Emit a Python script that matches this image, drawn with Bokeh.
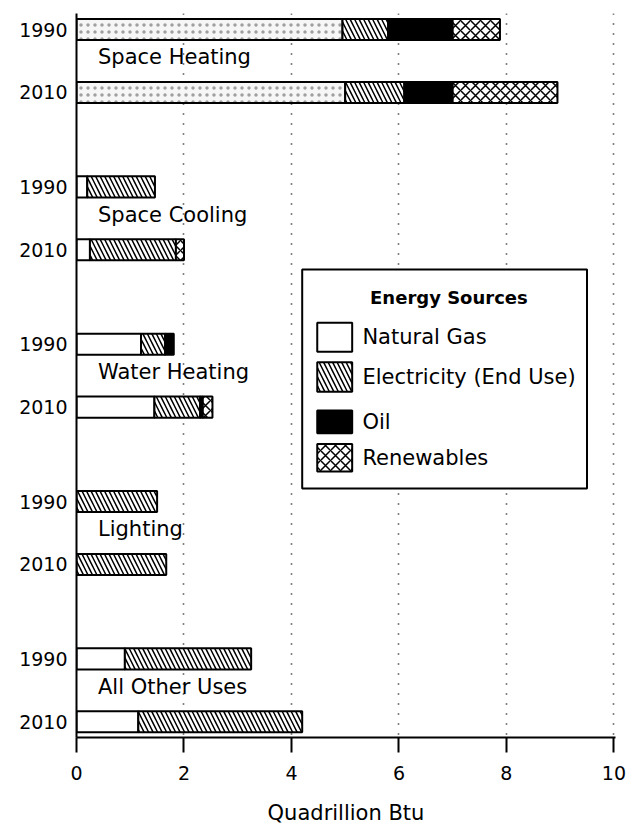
from bokeh.plotting import figure
from bokeh.models import Range1d, FixedTicker, BoxAnnotation, Label, ColumnDataSource
from bokeh.core.properties import value
from bokeh.embed import file_html
from bokeh.resources import INLINE

# ---- data (quadrillion Btu) ----
categories = ["Space Heating", "Space Cooling", "Water Heating", "Lighting", "All Other Uses"]
years = ["1990", "2010"]
natural_gas_1990 = [4.95, 0.20, 1.20, 0.0, 0.90]
natural_gas_2010 = [5.00, 0.25, 1.45, 0.0, 1.15]
electricity_1990 = [0.85, 1.26, 0.45, 1.50, 2.35]
electricity_2010 = [1.10, 1.60, 0.85, 1.67, 3.05]
oil_1990 = [1.20, 0.0, 0.16, 0.0, 0.0]
oil_2010 = [0.90, 0.0, 0.05, 0.0, 0.0]
renewables_1990 = [0.88, 0.0, 0.0, 0.0, 0.0]
renewables_2010 = [1.95, 0.15, 0.18, 0.0, 0.0]
x_ticks = [0, 2, 4, 6, 8, 10]
source_names = ["Natural Gas", "Electricity (End Use)", "Oil", "Renewables"]

series = {
    "1990": [natural_gas_1990, electricity_1990, oil_1990, renewables_1990],
    "2010": [natural_gas_2010, electricity_2010, oil_2010, renewables_2010],
}

FONT = "DejaVu Sans"

# styles per energy source
styles = [
    dict(fill_color="white", hatch_pattern=None),
    dict(fill_color="white", hatch_pattern="left_diagonal_line", hatch_scale=9, hatch_weight=1.5, hatch_color="black"),
    dict(fill_color="black", hatch_pattern=None),
    dict(fill_color="white", hatch_pattern="diagonal_cross", hatch_scale=10, hatch_weight=1.5, hatch_color="black"),
]

p = figure(width=629, height=827, output_backend="svg", toolbar_location=None,
           x_range=Range1d(0, 10.03), y_range=Range1d(22.5, -0.51),
           min_border_left=76, min_border_right=14, min_border_top=13, min_border_bottom=87)
p.outline_line_color = None
p.background_fill_color = "white"

# group slot layout: 1990 bar, label, 2010 bar, two empty slots
def slot(gi, yi):
    return 5 * gi + 2 * yi

# build stacked segments
for si in range(4):
    ys, lefts, rights, stipple = [], [], [], []
    for yi, yr in enumerate(years):
        vals = series[yr]
        for gi in range(len(categories)):
            start = sum(vals[k][gi] for k in range(si))
            v = vals[si][gi]
            if v > 0:
                ys.append(slot(gi, yi))
                lefts.append(start)
                rights.append(start + v)
                stipple.append(gi == 0)
    st = styles[si]
    if si == 0:
        src = ColumnDataSource(dict(y=[y for y, s in zip(ys, stipple) if not s],
                                    left=[l for l, s in zip(lefts, stipple) if not s],
                                    right=[r for r, s in zip(rights, stipple) if not s]))
        p.hbar(y="y", left="left", right="right", height=0.67, source=src,
               fill_color="white", line_color="black", line_width=2)
        src2 = ColumnDataSource(dict(y=[y for y, s in zip(ys, stipple) if s],
                                     left=[l for l, s in zip(lefts, stipple) if s],
                                     right=[r for r, s in zip(rights, stipple) if s]))
        p.hbar(y="y", left="left", right="right", height=0.67, source=src2,
               fill_color="#f6f6f6", line_color="black", line_width=2,
               hatch_pattern="dot", hatch_scale=7, hatch_weight=0.8, hatch_color="#8a8a8a", hatch_alpha=0.8)
    else:
        src = ColumnDataSource(dict(y=ys, left=lefts, right=rights))
        kw = dict(fill_color=st["fill_color"], line_color="black", line_width=2)
        if st["hatch_pattern"]:
            kw.update(hatch_pattern=st["hatch_pattern"], hatch_scale=st["hatch_scale"],
                      hatch_weight=st["hatch_weight"], hatch_color=st["hatch_color"])
        p.hbar(y="y", left="left", right="right", height=0.67, source=src, **kw)

# category labels
lab_src = ColumnDataSource(dict(x=[0.4] * len(categories),
                                y=[5 * gi + 0.88 for gi in range(len(categories))],
                                t=categories))
p.text(x="x", y="y", text="t", source=lab_src, text_font=value(FONT), text_font_size="21px",
       text_baseline="middle", text_align="left", text_color="black")

# axes
p.xaxis.ticker = FixedTicker(ticks=x_ticks)
p.xaxis.axis_line_width = 2
p.xaxis.major_tick_line_width = 2
p.xaxis.major_tick_out = 15
p.xaxis.major_tick_in = 0
p.xaxis.minor_tick_line_color = None
p.xaxis.major_label_text_font = FONT
p.xaxis.major_label_text_font_size = "19px"
p.xaxis.major_label_text_color = "black"
p.xaxis.major_label_standoff = 13
p.xaxis.axis_label = "Quadrillion Btu"
p.xaxis.axis_label_text_font = FONT
p.xaxis.axis_label_text_font_size = "21px"
p.xaxis.axis_label_text_font_style = "normal"
p.xaxis.axis_label_text_color = "black"
p.xaxis.axis_label_standoff = 18

y_ticks = [slot(gi, yi) for gi in range(len(categories)) for yi in range(2)]
p.yaxis.ticker = FixedTicker(ticks=y_ticks)
p.yaxis.major_label_overrides = {t: years[i % 2] for i, t in enumerate(y_ticks)}
p.yaxis.axis_line_width = 2
p.yaxis.major_tick_line_color = None
p.yaxis.minor_tick_line_color = None
p.yaxis.major_label_text_font = FONT
p.yaxis.major_label_text_font_size = "19px"
p.yaxis.major_label_text_color = "black"
p.yaxis.major_label_standoff = 3

# grid
p.ygrid.visible = False
p.xgrid.ticker = FixedTicker(ticks=x_ticks[1:])
p.xgrid.grid_line_color = "black"
p.xgrid.grid_line_width = 1.6
p.xgrid.grid_line_dash = "1 9"

# legend (manual)
p.add_layout(BoxAnnotation(left=4.2, right=9.5, top=7.63, bottom=14.59,
                           fill_color="white", fill_alpha=1, line_color="black", line_width=2,
                           line_alpha=1))
p.add_layout(Label(x=6.93, y=8.51, text="Energy Sources", text_font=FONT, text_font_size="18px",
                   text_font_style="bold", text_align="center", text_baseline="middle", text_color="black"))
rows = [(9.78, 0.46), (11.04, 0.47), (12.47, 0.36), (13.61, 0.44)]
for (cy, hh), name, st in zip(rows, source_names, styles):
    kw = dict(left=4.48, right=5.13, top=cy - hh, bottom=cy + hh,
              fill_color=st["fill_color"], fill_alpha=1, line_color="black", line_width=2, line_alpha=1)
    if st["hatch_pattern"]:
        kw.update(hatch_pattern=st["hatch_pattern"], hatch_scale=st["hatch_scale"],
                  hatch_weight=st["hatch_weight"], hatch_color=st["hatch_color"])
    p.add_layout(BoxAnnotation(**kw))
    p.add_layout(Label(x=5.32, y=cy, text=name, text_font=FONT, text_font_size="21px",
                       text_align="left", text_baseline="middle", text_color="black"))

open("out.html", "w").write(file_html(p, INLINE))
